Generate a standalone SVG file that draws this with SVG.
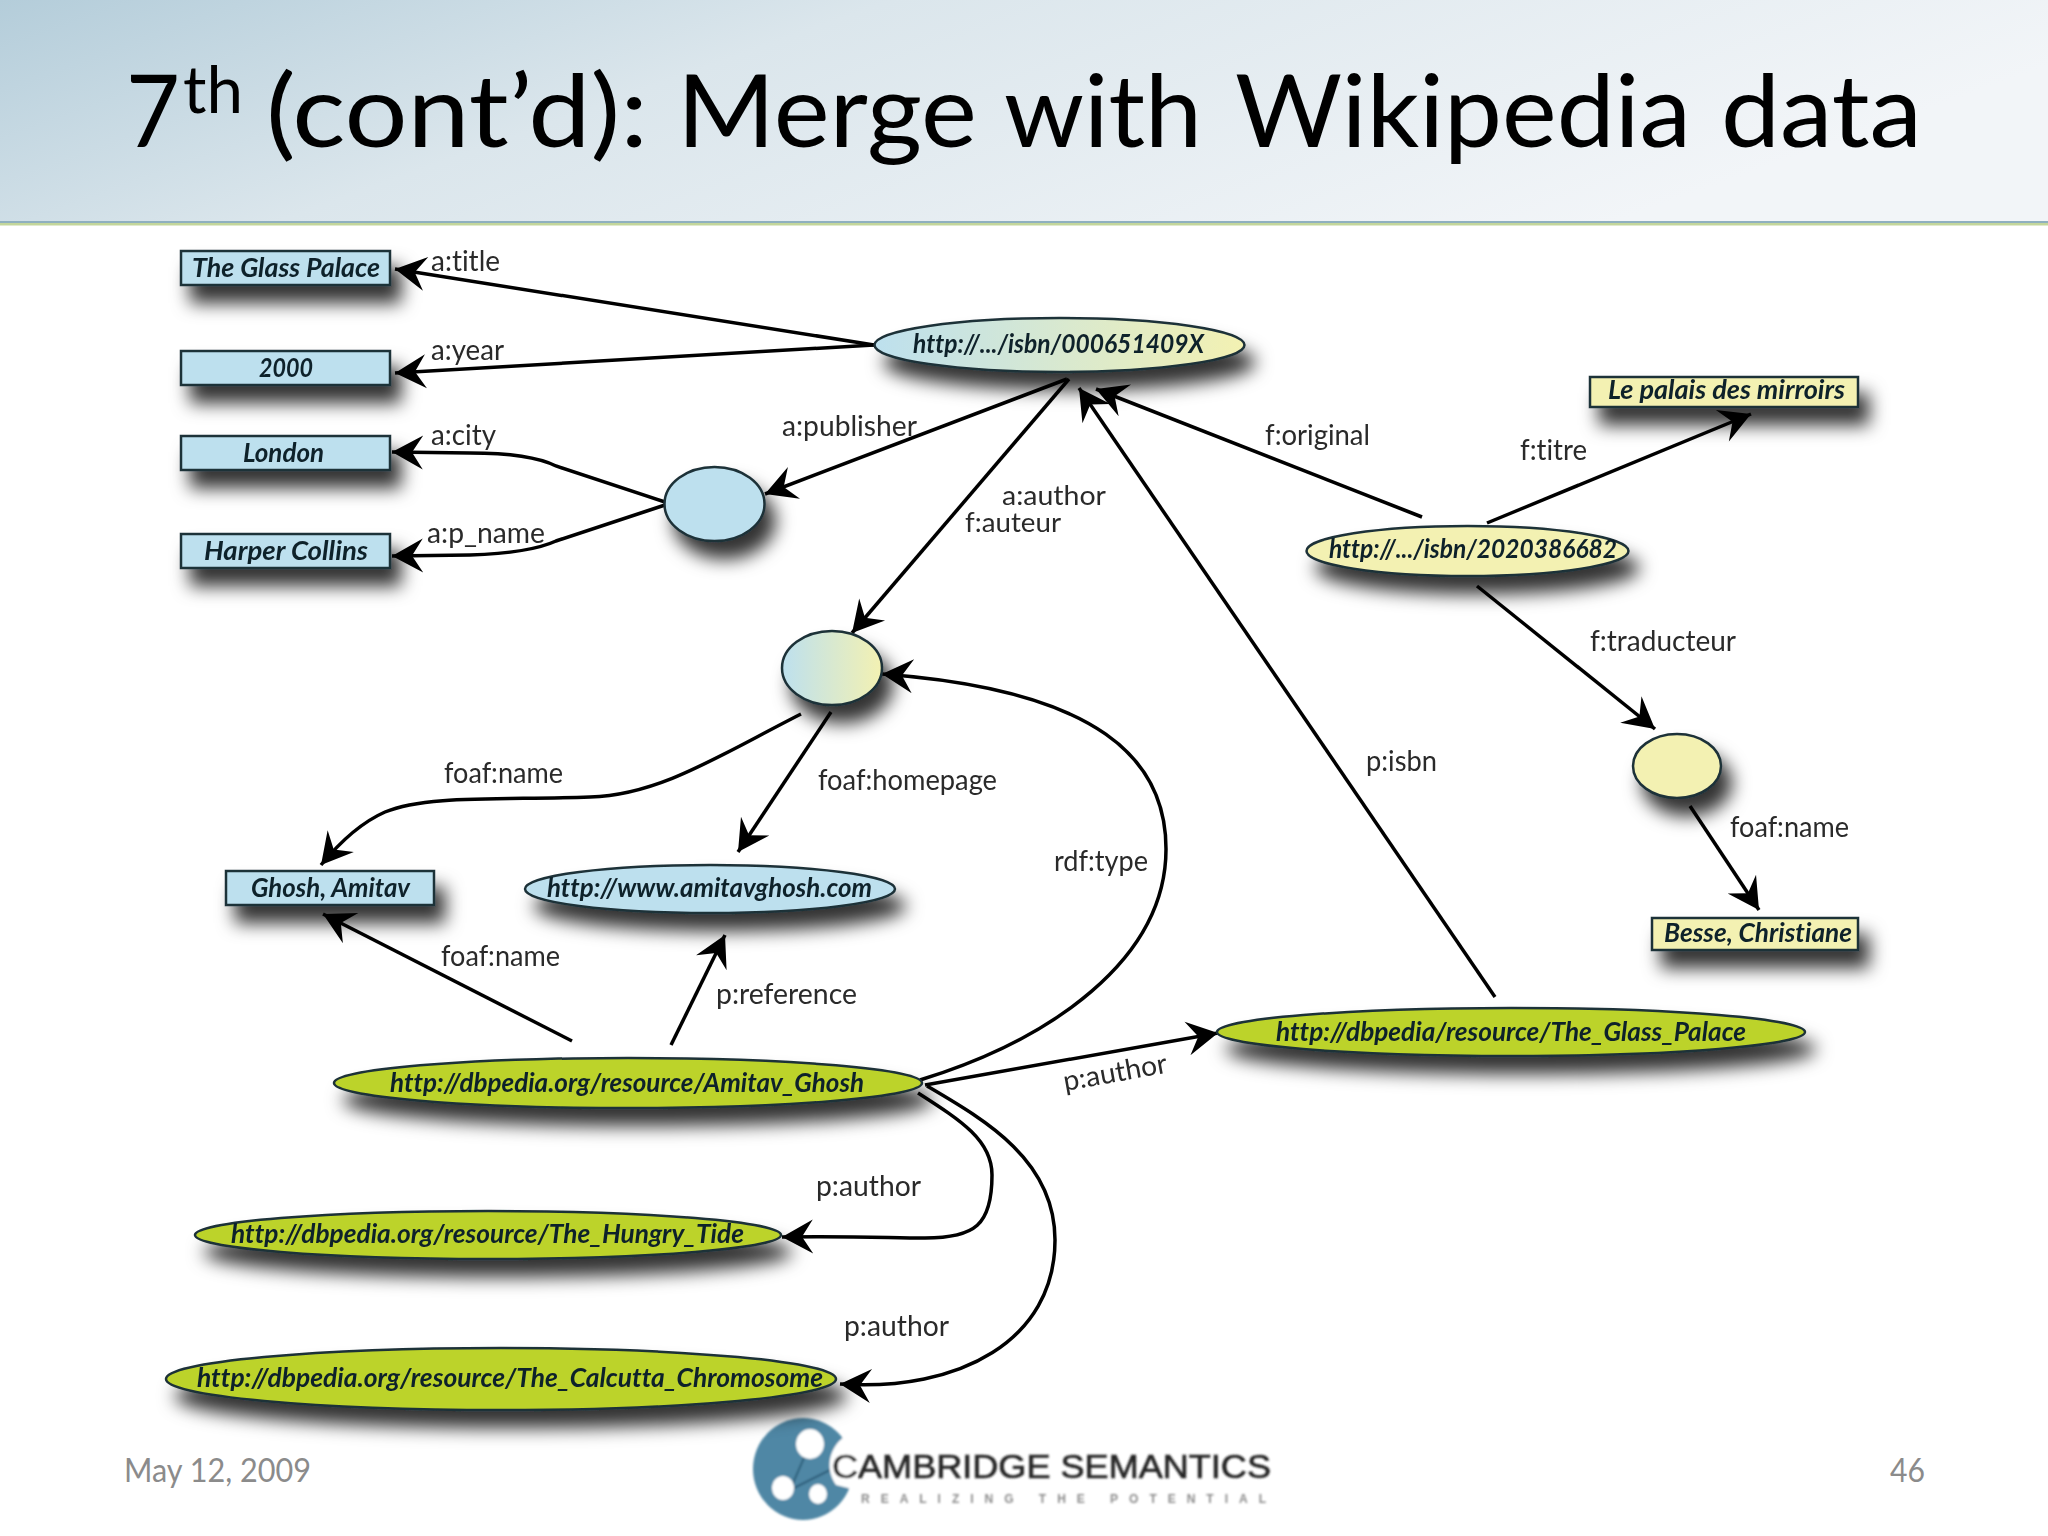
<svg xmlns="http://www.w3.org/2000/svg" width="2048" height="1536" viewBox="0 0 2048 1536">
<style>
text{font-variant-ligatures:none}
.lbl{font-family:"Lato","Liberation Sans",sans-serif;font-size:28px;fill:#2a2a2a}
.nt{font-family:"Lato","Liberation Sans",sans-serif;font-size:26px;font-weight:700;font-style:italic;fill:#10202a}
.shape{stroke:#1e3038;stroke-width:2.5;filter:url(#sh)}
.blue{fill:#bde0ee}.yel{fill:#f3f1b2}.grn{fill:#bcd32a}.mix{fill:url(#mix)}
.c{fill:none;stroke:#000;stroke-width:3.5;marker-end:url(#ah)}
.ttl{font-family:"Lato","Open Sans",sans-serif;fill:#000}
.ft{font-family:"Lato","Open Sans",sans-serif;font-size:32px;fill:#8b8b8b}
</style>
<defs>
<linearGradient id="hdr" x1="0" y1="0" x2="1" y2="0.3"><stop offset="0" stop-color="#b4cdda"/><stop offset="0.4" stop-color="#dbe6ec"/><stop offset="1" stop-color="#f2f5f8"/></linearGradient>
<linearGradient id="mix"><stop offset="0" stop-color="#bde0ee"/><stop offset="1" stop-color="#f3f1b2"/></linearGradient>
<filter id="sh" x="-30%" y="-100%" width="170%" height="400%"><feDropShadow dx="10" dy="17" stdDeviation="9" flood-color="#000" flood-opacity="0.8"/></filter>
<filter id="soft" filterUnits="userSpaceOnUse" x="0" y="0" width="2048" height="1536"><feGaussianBlur stdDeviation="0.6"/></filter>
<filter id="soft2" x="-5%" y="-5%" width="110%" height="110%"><feGaussianBlur stdDeviation="0.9"/></filter>
<marker id="ah" markerUnits="userSpaceOnUse" markerWidth="44" markerHeight="44" refX="34" refY="22" orient="auto" viewBox="0 0 44 44"><path d="M34,22 L3,5 L14,22 L3,39 Z" fill="#000"/></marker>
</defs>
<rect width="2048" height="1536" fill="#fff"/>
<g id="header">
<rect width="2048" height="221" fill="url(#hdr)"/>
<rect y="221" width="2048" height="2" fill="#8fb0bf"/>
<rect y="223" width="2048" height="2.500" fill="#c3d69b"/>
<text class="ttl" font-size="101" y="147"><tspan x="126" textLength="54" lengthAdjust="spacingAndGlyphs">7</tspan><tspan x="183" y="113" font-size="66" textLength="60" lengthAdjust="spacingAndGlyphs">th</tspan> <tspan x="266" y="147" textLength="382" lengthAdjust="spacingAndGlyphs">(cont’d):</tspan> <tspan x="677" textLength="300" lengthAdjust="spacingAndGlyphs">Merge</tspan> <tspan x="1004" textLength="198" lengthAdjust="spacingAndGlyphs">with</tspan> <tspan x="1235" textLength="456" lengthAdjust="spacingAndGlyphs">Wikipedia</tspan> <tspan x="1721" textLength="201" lengthAdjust="spacingAndGlyphs">data</tspan></text>
</g>
<g id="diagram" filter="url(#soft)">
<g id="connectors">
<path class="c" d="M874,345 L395,269"/>
<path class="c" d="M874,345 L395,373"/>
<path class="c" d="M665,502 L556,466 Q530,453 470,453 L392,452"/>
<path class="c" d="M665,505 L556,541 Q530,553 470,555 L392,556"/>
<path class="c" d="M1067,379 L765,494"/>
<path class="c" d="M1069,379 L852,633"/>
<path class="c" d="M1422,517 L1096,389"/>
<path class="c" d="M1495,997 L1079,388"/>
<path class="c" d="M1487,523 L1751,414"/>
<path class="c" d="M1477,586 L1655,729"/>
<path class="c" d="M1690,806 L1759,910"/>
<path class="c" d="M801,714 C720,755 660,795 590,797 C500,800 425,795 385,812 C360,823 340,842 321,865"/>
<path class="c" d="M831,712 L738,852"/>
<path class="c" d="M572,1041 L323,914"/>
<path class="c" d="M671,1045 L725,935"/>
<path class="c" d="M920,1080 C1050,1040 1166,960 1166,849 C1166,760 1100,690 882,674"/>
<path class="c" d="M925,1085 L1218,1033"/>
<path class="c" d="M918,1093 C960,1120 992,1140 992,1175 C992,1225 975,1238 925,1238 C890,1238 860,1236 782,1237"/>
<path class="c" d="M927,1086 C985,1120 1055,1160 1055,1240 C1055,1340 960,1392 840,1384"/>
</g>
<g id="edge-labels">
<text class="lbl" x="431" y="271" textLength="69" lengthAdjust="spacingAndGlyphs">a:title</text>
<text class="lbl" x="431" y="360" textLength="73" lengthAdjust="spacingAndGlyphs">a:year</text>
<text class="lbl" x="431" y="445" textLength="65" lengthAdjust="spacingAndGlyphs">a:city</text>
<text class="lbl" x="427" y="543" textLength="118" lengthAdjust="spacingAndGlyphs">a:p_name</text>
<text class="lbl" x="782" y="436" textLength="135" lengthAdjust="spacingAndGlyphs">a:publisher</text>
<text class="lbl" style="font-size:26px" x="1002" y="505" textLength="104" lengthAdjust="spacingAndGlyphs">a:author</text>
<text class="lbl" style="font-size:26px" x="965" y="532" textLength="96" lengthAdjust="spacingAndGlyphs">f:auteur</text>
<text class="lbl" x="1265" y="445" textLength="105" lengthAdjust="spacingAndGlyphs">f:original</text>
<text class="lbl" x="1520" y="460" textLength="67" lengthAdjust="spacingAndGlyphs">f:titre</text>
<text class="lbl" x="1590" y="651" textLength="146" lengthAdjust="spacingAndGlyphs">f:traducteur</text>
<text class="lbl" x="444" y="783" textLength="119" lengthAdjust="spacingAndGlyphs">foaf:name</text>
<text class="lbl" x="818" y="790" textLength="179" lengthAdjust="spacingAndGlyphs">foaf:homepage</text>
<text class="lbl" x="1054" y="871" textLength="94" lengthAdjust="spacingAndGlyphs">rdf:type</text>
<text class="lbl" x="1366" y="771" textLength="71" lengthAdjust="spacingAndGlyphs">p:isbn</text>
<text class="lbl" x="1730" y="837" textLength="119" lengthAdjust="spacingAndGlyphs">foaf:name</text>
<text class="lbl" x="441" y="966" textLength="119" lengthAdjust="spacingAndGlyphs">foaf:name</text>
<text class="lbl" x="716" y="1004" textLength="141" lengthAdjust="spacingAndGlyphs">p:reference</text>
<text class="lbl" transform="translate(1065,1091) rotate(-10.2)" textLength="105" lengthAdjust="spacingAndGlyphs">p:author</text>
<text class="lbl" x="816" y="1196" textLength="105" lengthAdjust="spacingAndGlyphs">p:author</text>
<text class="lbl" x="844" y="1336" textLength="105" lengthAdjust="spacingAndGlyphs">p:author</text>
</g>
<g id="n-glass"><rect class="shape blue" x="181" y="251" width="209" height="34"/><text class="nt" x="192" y="277" textLength="188" lengthAdjust="spacingAndGlyphs">The Glass Palace</text></g>
<g id="n-2000"><rect class="shape blue" x="181" y="351" width="209" height="34"/><text class="nt" x="259" y="377" textLength="54" lengthAdjust="spacingAndGlyphs">2000</text></g>
<g id="n-london"><rect class="shape blue" x="181" y="436" width="209" height="34"/><text class="nt" x="243" y="462" textLength="81" lengthAdjust="spacingAndGlyphs">London</text></g>
<g id="n-harper"><rect class="shape blue" x="181" y="534" width="209" height="34"/><text class="nt" x="204" y="560" textLength="164" lengthAdjust="spacingAndGlyphs">Harper Collins</text></g>
<g id="n-isbn1"><ellipse class="shape mix" cx="1059.500" cy="345" rx="185" ry="27"/><text class="nt" x="913" y="353" textLength="291" lengthAdjust="spacingAndGlyphs">http://.../isbn/000651409X</text></g>
<g id="n-publisher"><ellipse class="shape blue" cx="714.500" cy="504" rx="50" ry="37"/></g>
<g id="n-author"><ellipse class="shape mix" cx="832" cy="668" rx="50" ry="37"/></g>
<g id="n-palais"><rect class="shape yel" x="1590" y="377" width="268" height="30"/><text class="nt" x="1608" y="399" textLength="237" lengthAdjust="spacingAndGlyphs">Le palais des mirroirs</text></g>
<g id="n-isbn2"><ellipse class="shape yel" cx="1467.500" cy="551" rx="161" ry="25"/><text class="nt" x="1329" y="558" textLength="288" lengthAdjust="spacingAndGlyphs">http://.../isbn/2020386682</text></g>
<g id="n-translator"><ellipse class="shape yel" cx="1677" cy="766" rx="44" ry="32"/></g>
<g id="n-besse"><rect class="shape yel" x="1652" y="918" width="206" height="32"/><text class="nt" x="1664" y="942" textLength="188" lengthAdjust="spacingAndGlyphs">Besse, Christiane</text></g>
<g id="n-ghoshlit"><rect class="shape blue" x="226" y="871" width="208" height="34"/><text class="nt" x="251" y="897" textLength="159" lengthAdjust="spacingAndGlyphs">Ghosh, Amitav</text></g>
<g id="n-home"><ellipse class="shape blue" cx="710" cy="889" rx="185" ry="24"/><text class="nt" x="547" y="897" textLength="325" lengthAdjust="spacingAndGlyphs">http://www.amitavghosh.com</text></g>
<g id="n-dbghosh"><ellipse class="shape grn" cx="628" cy="1083" rx="294" ry="25"/><text class="nt" x="390" y="1092" textLength="474" lengthAdjust="spacingAndGlyphs">http://dbpedia.org/resource/Amitav_Ghosh</text></g>
<g id="n-dbglass"><ellipse class="shape grn" cx="1511" cy="1032" rx="294" ry="24"/><text class="nt" x="1276" y="1041" textLength="470" lengthAdjust="spacingAndGlyphs">http://dbpedia/resource/The_Glass_Palace</text></g>
<g id="n-dbtide"><ellipse class="shape grn" cx="488" cy="1235" rx="293" ry="24"/><text class="nt" x="231" y="1243" textLength="513" lengthAdjust="spacingAndGlyphs">http://dbpedia.org/resource/The_Hungry_Tide</text></g>
<g id="n-dbchrom"><ellipse class="shape grn" cx="501" cy="1379" rx="335" ry="31"/><text class="nt" x="197" y="1387" textLength="626" lengthAdjust="spacingAndGlyphs">http://dbpedia.org/resource/The_Calcutta_Chromosome</text></g>
</g>
<g id="footer">
<text class="ft" x="124" y="1482" textLength="187" lengthAdjust="spacingAndGlyphs">May 12, 2009</text>
<text class="ft" x="1890" y="1482" textLength="35" lengthAdjust="spacingAndGlyphs">46</text>
</g>
<g id="logo" filter="url(#soft2)">
<ellipse cx="803" cy="1469" rx="50" ry="51" fill="#4f87a5"/>
<path d="M810,1444 L790,1490 M790,1490 L830,1470" stroke="#2f607c" stroke-width="2" fill="none"/>
<path d="M853,1432 C832,1440 822,1465 836,1485 L856,1490 V1432 Z" fill="#fff"/>
<ellipse cx="810" cy="1444" rx="14" ry="15" fill="#fff"/>
<ellipse cx="783" cy="1488" rx="11" ry="12" fill="#fff"/>
<ellipse cx="818" cy="1494" rx="9" ry="10" fill="#fff"/>
<text x="832" y="1478" font-family="Liberation Sans,sans-serif" font-size="34" fill="#222" stroke="#222" stroke-width="0.6" textLength="439" lengthAdjust="spacingAndGlyphs">CAMBRIDGE SEMANTICS</text>
<text x="861" y="1503" font-family="Liberation Sans,sans-serif" font-size="12" font-weight="700" fill="#8a8a8a" textLength="405" lengthAdjust="spacing">REALIZING THE POTENTIAL</text>
</g>
</svg>
